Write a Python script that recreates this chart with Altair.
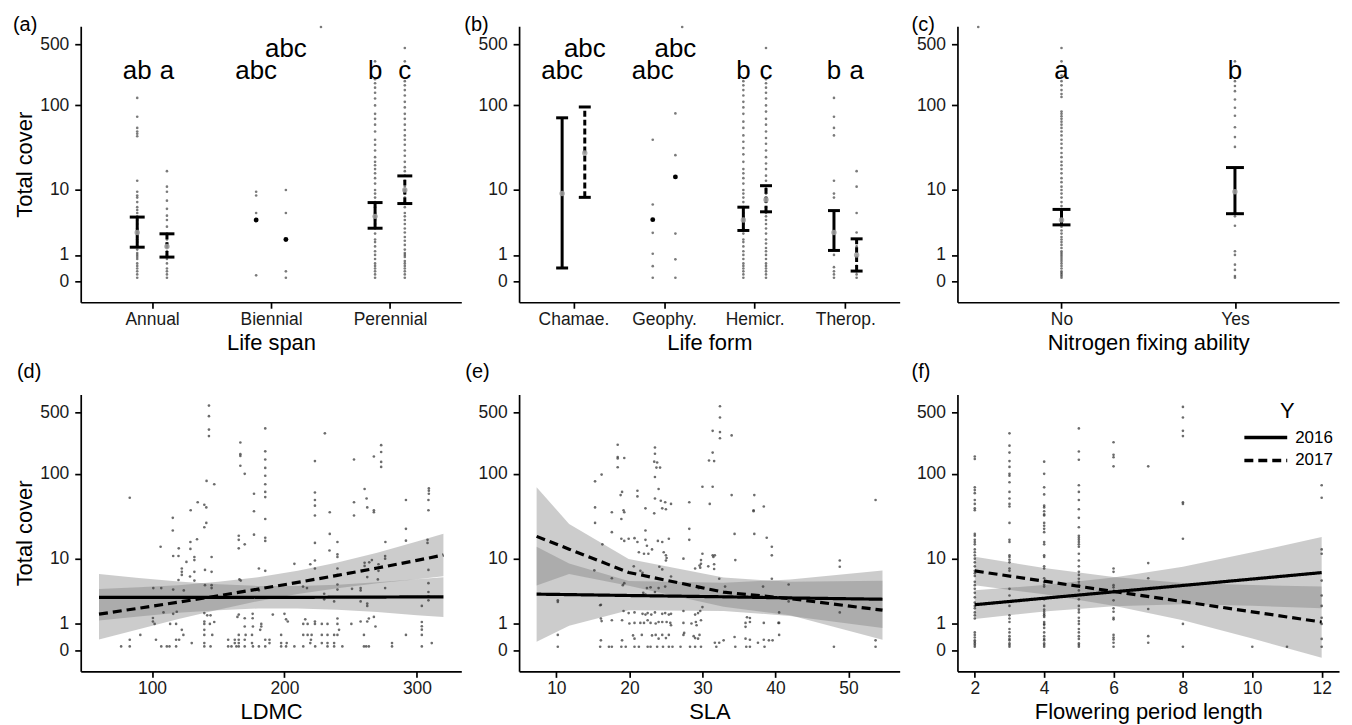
import json
import altair as alt
import pandas as pd

FONT = "Liberation Sans"
Y_DOMAIN = [-0.73, 805]
Y_TICKS = [0, 1, 10, 100, 500]
DODGE = 0.125
PT_COLOR = "#333333"
BAND_COLOR = "#7a7a7a"

# ---------------- (a) Life span ----------------
life_span_cats = ["Annual", "Biennial", "Perennial"]
ls_points_2016 = [
    [122, 74, 55, 50, 47, 44, 13, 9.5, 8.5, 8, 7, 6, 5.5, 5, 4.5, 4, 3.5, 3, 2.8, 2.5, 2.2, 2, 1.8, 1.5,
     1.3, 1.1, 1, 0.9, 0.8, 0.6, 0.5, 0.4, 0.3, 0.2, 0.1],
    [9.5, 8.5, 5, 0.17],
    [320, 200, 180, 160, 140, 120, 100, 80, 70, 60, 50, 40, 35, 30, 25, 22, 20, 18, 16, 14, 12, 10, 9, 8,
     7, 6, 5, 4.5, 4, 3.5, 3, 2.5, 2, 1.8, 1.5, 1.2, 1, 0.8, 0.6, 0.5, 0.4, 0.3, 0.2, 0.1],
]
ls_points_2017 = [
    [17, 11, 9.5, 7.3, 5.7, 4.6, 4, 3.2, 2.5, 2, 1.7, 1.4, 1.2, 1, 0.8, 0.6, 0.4, 0.3, 0.2, 0.1],
    [10, 5, 0.3, 0.1],
    [455, 320, 190, 170, 150, 130, 110, 95, 80, 70, 60, 52, 45, 40, 35, 30, 26, 22, 19, 17, 15, 13, 11,
     10, 9, 8, 7, 6, 5, 4.5, 4, 3.5, 3, 2.6, 2.2, 1.9, 1.6, 1.3, 1.1, 1, 0.9, 0.7, 0.6, 0.5, 0.4, 0.3,
     0.2, 0.1],
]
ls_low_2016 = [1.45, None, 3.03]
ls_high_2016 = [4.4, None, 6.9]
ls_mean_2016 = [2.6, 4.0, 4.5]
ls_low_2017 = [0.89, None, 6.7]
ls_high_2017 = [2.48, None, 14.9]
ls_mean_2017 = [1.5, 2.0, 10.0]
ls_letters_2016 = ["ab", "abc", "b"]
ls_letters_2017 = ["a", "abc", "c"]
ls_letter_y_2016 = [200, 200, 200]
ls_letter_y_2017 = [200, 357, 200]
ls_extra_pos = [2.42]
ls_extra_cover = [790]

# ---------------- (b) Life form ----------------
life_form_cats = ["Chamae.", "Geophy.", "Hemicr.", "Therop."]
lf_points_2016 = [
    [9],
    [40, 6.5, 2.57, 1.06, 0.49, 0.1],
    [190, 170, 150, 130, 110, 95, 80, 65, 55, 45, 38, 32, 27, 22, 18, 16, 14, 12, 10, 9, 8, 7, 6, 5, 4.5,
     4, 3.5, 3, 2.5, 2, 1.8, 1.5, 1.2, 1, 0.8, 0.6, 0.5, 0.4, 0.3, 0.2, 0.1],
    [122, 74, 55, 45, 13, 9, 8, 2.6, 1, 0.45, 0.3, 0.2, 0.1],
]
lf_points_2017 = [
    [28],
    [81, 26.4, 2.5, 0.78, 0.1],
    [455, 200, 180, 160, 140, 120, 100, 85, 70, 60, 50, 42, 36, 30, 25, 21, 18, 15, 13, 11, 10, 9, 8, 7,
     6, 5, 4.5, 4, 3.5, 3, 2.5, 2, 1.7, 1.4, 1.2, 1, 0.8, 0.6, 0.5, 0.4, 0.3, 0.2, 0.1],
    [17, 11, 5, 2.6, 1.5, 1, 0.8, 0.5, 0.3, 0.2, 0.1],
]
lf_low_2016 = [0.42, None, 2.8, 1.25]
lf_high_2016 = [72, None, 6.0, 5.4]
lf_mean_2016 = [9, 4.05, 4.0, 2.6]
lf_low_2017 = [8.06, None, 5.2, 0.31]
lf_high_2017 = [96, None, 11.3, 2.05]
lf_mean_2017 = [28, 14.5, 7.5, 1.0]
lf_letters_2016 = ["abc", "abc", "b", "b"]
lf_letters_2017 = ["abc", "abc", "c", "a"]
lf_letter_y_2016 = [200, 200, 200, 200]
lf_letter_y_2017 = [357, 357, 200, 200]
lf_extra_pos = [2.2]
lf_extra_cover = [790]

# ---------------- (c) Nitrogen fixing ability ----------------
nfix_cats = ["No", "Yes"]
nfix_points = [
    [455, 320, 220, 190, 170, 150, 135, 125, 85, 80, 75, 70, 65, 60, 55, 50, 45, 40, 36, 32, 28, 25, 22,
     20, 18, 16, 14, 12.5, 11, 10, 9, 8, 7, 6.2, 5.5, 5, 4.5, 4, 3.6, 3.2, 2.8, 2.5, 2.2, 2, 1.8, 1.6,
     1.4, 1.2, 1.1, 1, 0.9, 0.8, 0.7, 0.6, 0.5, 0.4, 0.3, 0.25, 0.2, 0.15, 0.1],
    [320, 190, 167, 146, 117, 94, 76, 56, 43, 33, 9, 5, 4.5, 3.3, 1.2, 1, 0.55, 0.35, 0.15, 0.1],
]
nfix_low = [3.4, 4.9]
nfix_high = [5.6, 18.8]
nfix_mean = [4.0, 9.5]
nfix_letters = ["a", "b"]
nfix_letter_y = [200, 200]
nfix_extra_pos = [0.52]
nfix_extra_cover = [790]

# ---------------- (d) LDMC ----------------
ldmc_points = [
    (143, 600), (143, 455), (143, 320), (143, 270), (185.5, 330), (230.5, 290), (166.7, 228),
    (273, 213), (273, 178), (273, 137), (273, 120), (166.7, 168), (166.7, 160),
    (185.5, 181), (185.5, 146), (185.5, 117), (185.5, 95), (185.5, 76), (185.5, 62), (185.5, 54),
    (166.7, 124), (170, 100), (223, 140), (252.5, 146), (267.5, 158), (141.2, 83), (147, 76),
    (309, 68), (309, 64), (309, 59), (83.2, 53), (223, 61), (177, 59), (260.5, 67), (262, 52),
    (223, 50), (223, 43), (223, 33), (291.7, 50), (308.7, 50), (308.7, 38), (252.5, 47), (252.5, 33),
    (134.5, 47), (139.5, 44), (141, 41), (262.5, 41), (267.5, 38), (267.5, 36), (129.2, 38), (177, 37),
    (234.2, 36), (115.7, 31), (185.5, 30), (141, 27), (139.5, 24), (115.7, 22), (234.2, 20), (177, 19.6),
    (165.5, 19), (165.5, 17), (185.5, 18), (185.5, 16.5), (134, 17.3), (291.7, 23), (291.7, 16.6),
    (276.2, 16), (240, 16), (308, 17), (308, 15.6), (223, 15.6), (129, 16), (129, 13.2), (106.5, 14),
    (170, 15), (165.5, 13.4), (120.2, 13.4), (234, 12.6), (240, 11.3), (240, 10.5), (116, 10.8),
    (120, 10.8), (132, 10.5), (132, 9.6), (145, 10.5), (126, 9.1), (260.5, 8.9), (260.5, 8.1),
    (276, 10.8), (276, 10), (266, 9.6), (264, 9), (207.5, 8.6), (223, 9.5), (219.5, 8.5), (271, 8.5),
    (271, 7), (122.5, 7.5), (122.5, 6.8), (122.5, 6.2), (140, 7.2), (145, 6.8), (132, 6.8), (180.7, 7.5),
    (185.5, 7), (223, 7.5), (308.7, 7.2), (308.7, 4.8), (308.7, 3.6), (308.7, 3.1), (308.7, 2.7),
    (262.5, 5.8), (240, 7.5), (240, 6.2), (240, 4.6), (240, 3.9), (128.7, 5.9), (132, 5.2), (120, 5.3),
    (166, 5.4), (167, 5.2), (140, 4.5), (145, 4.5), (145, 4.1), (214, 4.3), (217, 4.1), (101, 4.1),
    (107, 4.1), (124, 3.8), (116, 3.9), (251, 4.0), (257.5, 4.1), (257.5, 3.8), (276, 4.1), (270.5, 5.4),
    (180.7, 3.8), (237.5, 2.6), (230, 2.8), (230, 3.4), (257.5, 2.6), (262.5, 2.4), (262.5, 2.2),
    (100.7, 1.33), (100.7, 1.13), (102, 1.0), (108.7, 1.7), (116, 1.6), (118.7, 1.75), (113.7, 1.0),
    (118.2, 1.0), (139.5, 1.65), (141.7, 1.5), (144.2, 1.5), (139.5, 1.13), (139.5, 1.0), (143.7, 1.0),
    (147, 1.1), (164.5, 1.4), (165.5, 1.55), (170, 1.32), (176, 1.32), (176, 1.6), (182.5, 1.0),
    (182.5, 0.87), (191.2, 1.55), (200, 1.6), (201.2, 1.25), (202.5, 1.13), (214.2, 1.0), (215.7, 1.25),
    (217.5, 1.0), (223, 1.13), (223, 1.0), (228.2, 1.0), (232.5, 1.0), (240, 1.3), (240, 1.0),
    (250.5, 1.0), (257.5, 1.13), (262.5, 1.13), (263.7, 1.3), (267.5, 1.4), (303.7, 1.1), (303.7, 0.88),
    (303.7, 0.72), (303.7, 2.2),
    (76.7, 0.11), (83.2, 0.11), (107, 0.11), (111.2, 0.11), (113.2, 0.11), (118.2, 0.11), (139.5, 0.11),
    (144.2, 0.11), (157.5, 0.11), (160, 0.11), (163.7, 0.11), (165.5, 0.11), (170, 0.11), (176.2, 0.11),
    (180.7, 0.11), (185.5, 0.11), (197.5, 0.11), (201.2, 0.11), (207.5, 0.11), (214.2, 0.11),
    (223.2, 0.11), (232.5, 0.11), (237.5, 0.11), (243.7, 0.11), (260, 0.11), (261.7, 0.11),
    (263.7, 0.11), (281.2, 0.11), (303.7, 0.11),
    (130, 0.21), (139.5, 0.21), (162.5, 0.21), (165.5, 0.21), (175.5, 0.21), (188.7, 0.21), (197.5, 0.21),
    (201.7, 0.21), (219.5, 0.21), (228.2, 0.21), (232.5, 0.21), (237.5, 0.21), (281.2, 0.21), (311.2, 0.21),
    (83.2, 0.32), (103, 0.32), (118.2, 0.32), (120.5, 0.32), (157.5, 0.32), (162.5, 0.32), (165.5, 0.32),
    (170, 0.32), (185.5, 0.32), (188.7, 0.32), (220, 0.32),
    (91.2, 0.5), (123.7, 0.5), (139.5, 0.5), (145.5, 0.5), (165.5, 0.5), (170.7, 0.5), (175.5, 0.5),
    (197.5, 0.5), (214.2, 0.5), (217.5, 0.5), (220.5, 0.5), (228.2, 0.5), (232.5, 0.5), (237.5, 0.5),
    (240, 0.5), (260, 0.5), (291.7, 0.5), (303.7, 0.5),
    (122.5, 0.71), (139.5, 0.71), (181.7, 0.71), (241.2, 0.71), (170, 0.87), (176.2, 0.87), (268.7, 0.87),
]
ldmc_grid = [60, 90, 120, 150, 180, 210, 240, 270, 300, 320]
ldmc_fit_2016 = [3.0, 3.0, 3.0, 3.0, 3.0, 3.0, 3.02, 3.03, 3.05, 3.05]
ldmc_low_2016 = [1.19, 1.43, 1.67, 1.86, 1.99, 1.99, 1.89, 1.72, 1.51, 1.39]
ldmc_high_2016 = [6.38, 5.65, 5.04, 4.64, 4.40, 4.40, 4.58, 4.94, 5.43, 5.76]
ldmc_fit_2017 = [1.58, 2.01, 2.53, 3.17, 3.96, 4.92, 6.11, 7.61, 9.52, 11.1]
ldmc_low_2017 = [0.33, 0.74, 1.27, 1.90, 2.62, 3.37, 4.07, 4.77, 5.41, 5.93]
ldmc_high_2017 = [3.99, 4.20, 4.50, 5.00, 5.78, 7.02, 8.98, 11.85, 16.26, 20.13]

# ---------------- (e) SLA ----------------
sla_points = [
    (32.4, 590), (32.4, 440), (31.4, 310), (32.4, 300), (32.4, 255), (34.0, 275), (18.4, 215),
    (23.5, 200), (23.5, 170), (23.4, 138), (23.8, 135), (23.7, 118), (24.2, 118), (18.4, 156),
    (18.4, 150), (19.3, 152), (30.9, 142), (31.6, 140), (31.4, 175), (18.4, 119), (16.2, 98),
    (23.5, 92), (15.3, 82), (30.0, 71), (31.4, 71), (21.1, 64), (21.1, 55), (24.0, 67), (19.0, 62),
    (18.8, 57), (34.0, 57), (37.1, 57), (23.5, 52), (24.3, 49), (24.9, 47), (25.7, 45), (28.2, 47),
    (53.7, 50), (31.0, 45), (38.4, 42), (15.3, 41), (19.2, 38), (19.3, 36), (17.6, 36), (22.2, 40),
    (23.4, 35), (24.5, 40), (25.0, 39), (37.0, 38), (37.0, 37), (18.9, 30), (15.3, 27), (22.2, 22),
    (34.4, 20), (37.1, 20), (17.6, 21), (18.9, 17.5), (19.3, 16.5), (19.9, 17.5), (20.7, 17.8),
    (21.1, 16), (22.2, 17), (23.9, 16.5), (24.5, 16), (25.4, 17.5), (28.2, 17), (28.2, 23), (38.8, 18),
    (16.3, 15), (22.4, 14.4), (23.1, 13), (39.5, 14), (39.5, 11), (48.8, 9.5), (48.8, 7.9), (21.3, 12),
    (22.0, 11.5), (22.6, 11.5), (24.7, 12), (25.0, 11), (25.1, 10.2), (25.0, 9.5), (31.4, 11),
    (31.5, 10.5), (31.6, 8.5), (31.6, 7.4), (30.8, 8), (31.7, 11), (27.4, 10), (29.8, 9.6), (29.8, 8.6),
    (30.0, 11.5), (29.6, 8.2), (34.5, 9.6), (29.7, 7.7), (29.0, 7.5), (24.1, 7.9), (24.5, 7.3),
    (20.6, 8), (21.5, 7), (21.8, 6.6), (15.2, 7.1), (25.7, 5.9), (17.6, 5.6), (32.3, 5.5), (38.3, 4.3),
    (39.5, 5.5), (41.8, 4.6), (19.1, 4.5), (19.3, 4.8), (22.4, 4.1), (22.9, 4.2), (24.0, 4.1),
    (24.9, 4.3), (29.5, 4.1), (33.1, 4.3), (21.9, 3.5), (22.2, 3.3), (23.5, 3.6), (10.2, 2.7),
    (10.2, 2.55), (41.8, 2.6), (48.8, 1.7), (16.1, 2.3), (16.0, 2.25), (19.2, 1.8), (19.9, 1.65),
    (20.7, 1.7), (21.8, 1.6), (22.2, 1.55), (22.5, 1.65), (23.0, 1.55), (23.5, 1.7), (24.5, 1.6),
    (24.9, 1.65), (25.4, 1.55), (25.7, 1.6), (27.4, 1.8), (29.0, 1.55), (29.4, 1.65), (29.7, 1.8),
    (30.0, 2.1), (36.1, 1.38), (36.5, 1.33), (40.5, 1.7), (17.6, 1.2), (16.1, 1.3), (16.2, 1.15),
    (19.0, 1.2), (20.0, 1.02), (20.7, 1.05), (21.5, 1.05), (22.0, 1.05), (22.5, 1.2), (22.9, 1.05),
    (23.6, 1.02), (24.0, 1.1), (24.5, 1.1), (25.1, 1.1), (25.6, 1.05), (25.7, 0.93), (27.4, 1.05),
    (28.5, 1.02), (29.1, 1.1), (29.2, 0.93), (29.8, 1.2), (35.9, 1.05), (35.9, 0.85), (36.5, 1.1),
    (38.4, 1.05), (40.4, 1.05), (40.5, 1.05), (10.2, 0.5),
    (16.1, 0.3), (19.0, 0.3), (20.5, 0.48), (20.7, 0.36), (21.7, 0.5), (23.1, 0.48), (23.6, 0.5),
    (24.0, 0.36), (24.5, 0.5), (25.0, 0.38), (25.4, 0.5), (27.4, 0.5), (27.5, 0.58), (28.8, 0.45),
    (29.0, 0.38), (29.4, 0.36), (29.6, 0.5), (31.7, 0.22), (32.3, 0.22), (32.9, 0.3), (34.4, 0.42),
    (35.9, 0.36), (36.5, 0.32), (37.6, 0.22), (38.4, 0.32), (39.1, 0.3), (39.6, 0.3), (40.5, 0.5),
    (53.7, 0.3),
    (10.2, 0.1), (16.0, 0.1), (17.2, 0.1), (17.6, 0.1), (18.9, 0.1), (19.5, 0.1), (20.7, 0.1),
    (21.3, 0.1), (22.5, 0.1), (22.9, 0.1), (23.8, 0.1), (24.6, 0.1), (25.4, 0.1), (25.9, 0.1),
    (27.0, 0.1), (28.3, 0.1), (29.0, 0.1), (29.8, 0.1), (31.9, 0.1), (34.5, 0.1), (36.0, 0.1),
    (36.5, 0.1), (38.5, 0.1), (48.0, 0.1), (53.7, 0.1),
]
sla_grid = [7.3, 11.75, 19.9, 32.9, 42.0, 54.65]
sla_fit_2016 = [3.35, 3.30, 3.20, 3.06, 2.94, 2.81]
sla_low_2016 = [0.255, 0.90, 1.85, 1.80, 1.46, 0.795]
sla_high_2016 = [14.0, 8.68, 5.15, 4.85, 5.38, 7.09]
sla_fit_2017 = [18.7, 13.1, 6.67, 3.58, 2.87, 1.86]
sla_low_2017 = [4.46, 6.35, 4.41, 2.12, 1.51, 0.323]
sla_high_2017 = [70.3, 26.2, 9.87, 5.73, 5.0, 5.17]

# ---------------- (f) Flowering period length ----------------
fpl_levels = [2, 3, 4, 5, 6, 7, 8, 10, 11, 12]
fpl_cover = [
    [158, 148, 70, 65, 60, 50, 45, 40, 38, 20, 19, 17, 16, 15, 13, 12, 11, 10, 9, 8, 7, 6.5, 6, 5, 4.5, 4,
     3.5, 3, 2.5, 2.2, 2, 1.7, 1.5, 1.3, 0.6, 0.5, 0.4, 0.3, 0.25, 0.2, 0.15, 0.1],
    [290, 210, 175, 140, 120, 100, 95, 80, 62, 52, 45, 42, 27, 17, 16, 11, 10.5, 9.7, 9, 7.5, 7, 4, 3.2,
     2.2, 1.5, 1.3, 1.1, 0.75, 0.6, 0.45, 0.35, 0.3, 0.2, 0.15, 0.1],
    [138, 100, 70, 58, 43, 41, 37, 34, 33, 27, 25, 23, 21, 16, 15, 11, 10.5, 8, 7.5, 5.6, 5, 4.6, 4.3, 2.9,
     2.8, 2.2, 1.9, 1.75, 1.6, 1.5, 1.4, 1.1, 1.0, 0.95, 0.8, 0.6, 0.45, 0.35, 0.3, 0.2, 0.15, 0.1],
    [330, 180, 145, 74, 62, 50, 39, 31, 24, 19, 18, 17, 16, 15, 14, 11.5, 9.5, 8, 6.8, 6.2, 5.5, 5, 4.6,
     3.8, 2.8, 2.2, 1.9, 1.7, 1.35, 1.15, 1.0, 0.75, 0.6, 0.45, 0.35, 0.2, 0.15, 0.1],
    [230, 165, 155, 122, 7.5, 6.8, 4.5, 4.2, 2.7, 2.0, 1.75, 1.35, 1.25, 0.5, 0.4, 0.33, 0.22, 0.1],
    [122, 8.8, 5.6, 1.95, 0.45, 0.22],
    [580, 440, 310, 270, 47, 45, 17.5, 1.0, 0.1],
    [0.1],
    [0.1],
    [74, 53, 13, 11.5, 5.2, 3.2, 2.2, 1.35, 1.0, 0.35, 0.1],
]
fpl_grid = [2, 4, 6, 8, 10, 12]
fpl_fit_2016 = [2.30, 2.91, 3.62, 4.46, 5.46, 6.64]
fpl_low_2016 = [1.27, 1.77, 2.17, 2.35, 2.21, 2.0]
fpl_high_2016 = [3.81, 4.51, 5.71, 7.89, 11.97, 18.41]
fpl_fit_2017 = [6.98, 5.11, 3.67, 2.58, 1.74, 1.10]
fpl_low_2017 = [4.48, 3.33, 2.21, 1.20, 0.365, -0.21]
fpl_high_2017 = [10.6, 7.61, 5.81, 4.83, 4.51, 4.33]

YEARS = ["2016", "2017"]


def yscale():
    return alt.Scale(type="symlog", constant=1, domain=Y_DOMAIN, nice=False, zero=False)


def yenc(field, title):
    return alt.Y(f"{field}:Q", scale=yscale(), title=title,
                 axis=alt.Axis(values=Y_TICKS, format="d"))


def tag(text, dx, dy):
    return alt.TitleParams(text=text, anchor="start", frame="group", orient="top", dx=dx, dy=dy,
                           offset=0, baseline="alphabetic", font=FONT, fontSize=20,
                           fontWeight="normal", color="black")


def cat_panel(cats, groups, extra_pos, extra_cover, xtitle, ytitle, width, height, cap, title):
    pts, errs, caps, rings, dots, txt = [], [], [], [], [], []
    for g in groups:
        for i in range(len(cats)):
            pos = i + 1 + g["offset"]
            pts += [{"pos": pos, "cover": v} for v in g["points"][i]]
            lo, hi, m = g["low"][i], g["high"][i], g["mean"][i]
            if lo is None:
                dots.append({"pos": pos, "cover": m})
            else:
                errs.append({"pos": pos, "lo": lo, "hi": hi, "dash": g["dash"]})
                caps += [{"pos": pos, "cover": lo}, {"pos": pos, "cover": hi}]
                rings.append({"pos": pos, "cover": m})
            txt.append({"pos": pos, "cover": g["letter_y"][i], "label": g["letters"][i]})
    pts += [{"pos": p, "cover": c} for p, c in zip(extra_pos, extra_cover)]
    n = len(cats)
    xenc = alt.X("pos:Q", title=xtitle,
                 scale=alt.Scale(domain=[0.4, n + 0.6], nice=False, zero=False),
                 axis=alt.Axis(values=list(range(1, n + 1)),
                               labelExpr=f"{json.dumps(cats)}[datum.value - 1]"))
    layers = [alt.Chart(pd.DataFrame(pts)).mark_circle(size=7, color=PT_COLOR, opacity=0.65)
              .encode(x=xenc, y=yenc("cover", ytitle))]
    err_df = pd.DataFrame(errs)
    for dash, pattern in [("solid", [1, 0]), ("dashed", [6, 3])]:
        sub = err_df[err_df["dash"] == dash]
        if len(sub):
            layers.append(alt.Chart(sub).mark_rule(color="black", strokeWidth=3, strokeDash=pattern)
                          .encode(x=xenc, y=yenc("lo", ytitle), y2="hi:Q"))
    layers.append(alt.Chart(pd.DataFrame(caps))
                  .mark_tick(orient="horizontal", size=cap, thickness=3, color="black", opacity=1)
                  .encode(x=xenc, y=yenc("cover", ytitle)))
    layers.append(alt.Chart(pd.DataFrame(rings)).mark_circle(size=30, color="#a3a3a3", opacity=0.85)
                  .encode(x=xenc, y=yenc("cover", ytitle)))
    if dots:
        layers.append(alt.Chart(pd.DataFrame(dots)).mark_circle(size=24, color="black", opacity=1)
                      .encode(x=xenc, y=yenc("cover", ytitle)))
    layers.append(alt.Chart(pd.DataFrame(txt))
                  .mark_text(font=FONT, fontSize=26, baseline="alphabetic", align="center", color="black")
                  .encode(x=xenc, y=yenc("cover", ytitle), text="label:N"))
    return alt.layer(*layers).properties(width=width, height=height, title=title)


def trait_panel(points, grid, fit16, lo16, hi16, fit17, lo17, hi17, xdomain, xticks, xtitle, ytitle,
                width, height, title, legend=None):
    xenc = alt.X("x:Q", title=xtitle, scale=alt.Scale(domain=xdomain, nice=False, zero=False),
                 axis=alt.Axis(values=xticks))
    band_rows, line_rows = [], []
    for yr, lo, hi, fit in [("2016", lo16, hi16, fit16), ("2017", lo17, hi17, fit17)]:
        for gx, l, h, f in zip(grid, lo, hi, fit):
            band_rows.append({"x": gx, "lo": l, "hi": h, "year": yr})
            line_rows.append({"x": gx, "fit": f, "year": yr})
    band_df = pd.DataFrame(band_rows)
    line_df = pd.DataFrame(line_rows)
    pts_df = pd.DataFrame(points, columns=["x", "cover"])
    layers = [
        alt.Chart(band_df).mark_area(color=BAND_COLOR, opacity=0.38)
        .encode(x=xenc, y=yenc("lo", ytitle), y2="hi:Q", detail="year:N"),
        alt.Chart(pts_df).mark_circle(size=7, color=PT_COLOR, opacity=0.72)
        .encode(x=xenc, y=yenc("cover", ytitle)),
    ]
    if legend is None:
        for yr, pattern in [("2016", [1, 0]), ("2017", [9, 5])]:
            layers.append(alt.Chart(line_df[line_df["year"] == yr])
                          .mark_line(color="black", strokeWidth=3.2, strokeDash=pattern)
                          .encode(x=xenc, y=yenc("fit", ytitle)))
    else:
        layers.append(alt.Chart(line_df).mark_line(color="black", strokeWidth=3.2)
                      .encode(x=xenc, y=yenc("fit", ytitle),
                              strokeDash=alt.StrokeDash("year:N",
                                                        scale=alt.Scale(domain=YEARS, range=[[1, 0], [9, 5]]),
                                                        legend=legend)))
    return alt.layer(*layers).properties(width=width, height=height, title=title)


W, WC = 382, 383
H1, H2 = 277, 278
DY1, DY2 = 25.5, 4

pa = cat_panel(
    life_span_cats,
    [dict(offset=-DODGE, dash="solid", points=ls_points_2016, low=ls_low_2016, high=ls_high_2016,
          mean=ls_mean_2016, letters=ls_letters_2016, letter_y=ls_letter_y_2016),
     dict(offset=DODGE, dash="dashed", points=ls_points_2017, low=ls_low_2017, high=ls_high_2017,
          mean=ls_mean_2017, letters=ls_letters_2017, letter_y=ls_letter_y_2017)],
    ls_extra_pos, ls_extra_cover, "Life span", "Total cover", W, H1, 15, tag("(a)", -68, DY1))

pb = cat_panel(
    life_form_cats,
    [dict(offset=-DODGE, dash="solid", points=lf_points_2016, low=lf_low_2016, high=lf_high_2016,
          mean=lf_mean_2016, letters=lf_letters_2016, letter_y=lf_letter_y_2016),
     dict(offset=DODGE, dash="dashed", points=lf_points_2017, low=lf_low_2017, high=lf_high_2017,
          mean=lf_mean_2017, letters=lf_letters_2017, letter_y=lf_letter_y_2017)],
    lf_extra_pos, lf_extra_cover, "Life form", None, W, H1, 12, tag("(b)", -55, DY1))

pc = cat_panel(
    nfix_cats,
    [dict(offset=0, dash="solid", points=nfix_points, low=nfix_low, high=nfix_high,
          mean=nfix_mean, letters=nfix_letters, letter_y=nfix_letter_y)],
    nfix_extra_pos, nfix_extra_cover, "Nitrogen fixing ability", None, WC, H1, 18, tag("(c)", -46, DY1))

pd_ = trait_panel(ldmc_points, ldmc_grid, ldmc_fit_2016, ldmc_low_2016, ldmc_high_2016,
                  ldmc_fit_2017, ldmc_low_2017, ldmc_high_2017, [46.2, 333.5], [100, 200, 300],
                  "LDMC", "Total cover", W, H2, tag("(d)", -64, DY2))

pe = trait_panel(sla_points, sla_grid, sla_fit_2016, sla_low_2016, sla_high_2016,
                 sla_fit_2017, sla_low_2017, sla_high_2017, [4.9, 57.0], [10, 20, 30, 40, 50],
                 "SLA", None, W, H2, tag("(e)", -54, DY2))

fpl_points = [(lv, c) for lv, covers in zip(fpl_levels, fpl_cover) for c in covers]
legend_f = alt.Legend(
    title="Y", orient="none", legendX=1166, legendY=376, direction="vertical",
    symbolType="stroke", symbolSize=1850, symbolStrokeWidth=3.5, symbolStrokeColor="black",
    labelFont=FONT, labelFontSize=17, labelColor="black", labelOffset=6,
    titleFont=FONT, titleFontSize=22, titleFontWeight="normal", titleColor="black",
    titleAnchor="middle", titlePadding=3.5, rowPadding=0, clipHeight=22.6, padding=0)
pf = trait_panel(fpl_points, fpl_grid, fpl_fit_2016, fpl_low_2016, fpl_high_2016,
                 fpl_fit_2017, fpl_low_2017, fpl_high_2017, [1.5, 12.5], [2, 4, 6, 8, 10, 12],
                 "Flowering period length", None, WC, H2, tag("(f)", -46, DY2), legend=legend_f)

chart = (
    alt.concat(pa, pb, pc, pd_, pe, pf, columns=3, spacing={"row": 92.5, "column": 58}, bounds="flush")
    .properties(padding={"left": 5, "top": 5, "right": 5, "bottom": 2})
    .configure(font=FONT)
    .configure_view(stroke=None)
    .configure_axis(domainColor="black", domainWidth=1.7, tickColor="black", tickWidth=1.7, tickSize=6,
                    labelFont=FONT, labelFontSize=17.5, labelColor="#1a1a1a", titleFont=FONT,
                    titleFontSize=22, titleFontWeight="normal", titleColor="black", grid=False)
    .configure_axisX(labelPadding=2, titlePadding=5)
    .configure_axisY(labelPadding=6, titlePadding=3)
)

chart.save("out.html", embed_options={"renderer": "svg", "actions": False})
